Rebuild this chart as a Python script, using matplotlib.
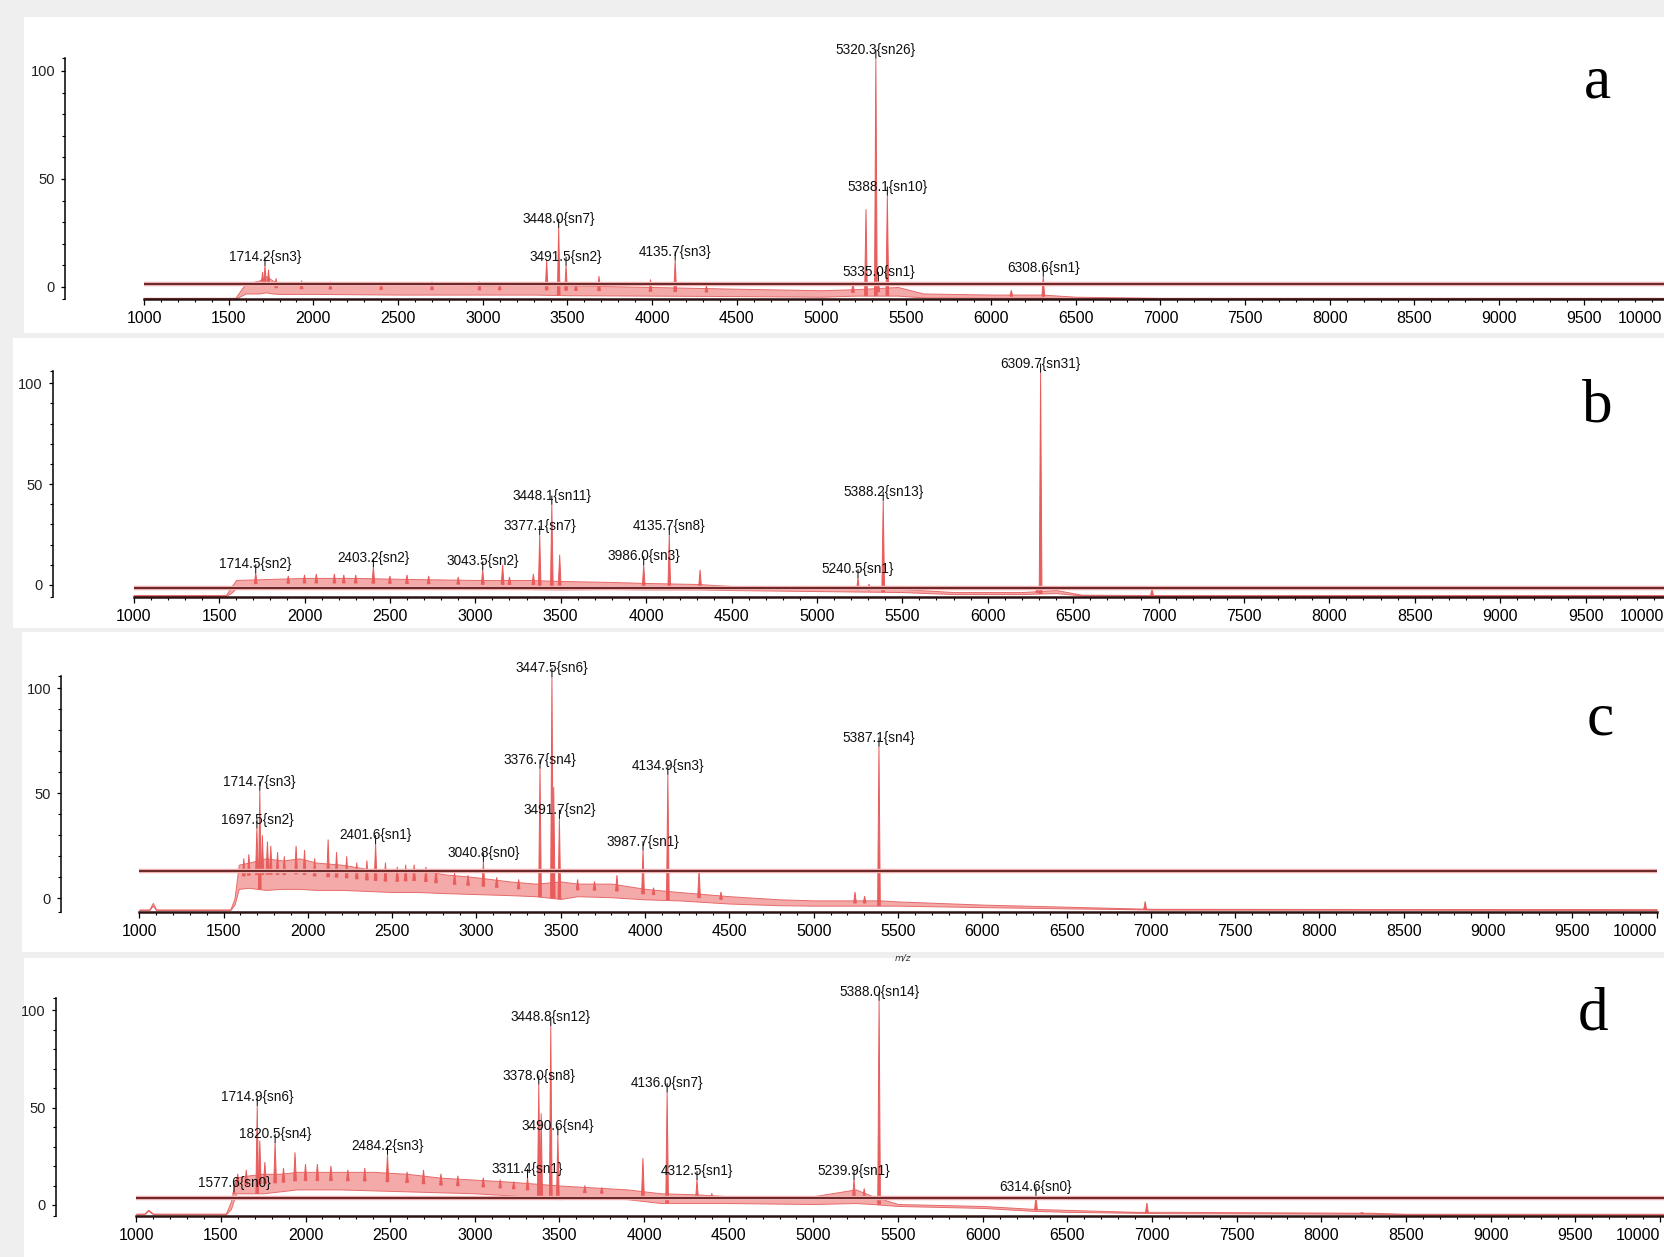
import numpy as np
import matplotlib
matplotlib.use("Agg")
import matplotlib.pyplot as plt
from matplotlib.patches import Rectangle
from matplotlib.ticker import FixedLocator

W, H = 1664, 1257
SANS = "Liberation Sans"

# ---- data (m/z, relative intensity) ----
x_ticks = [1000, 1500, 2000, 2500, 3000, 3500, 4000, 4500, 5000, 5500,
           6000, 6500, 7000, 7500, 8000, 8500, 9000, 9500, 10000]
y_ticks = [0, 50, 100]
y_minor = [10, 20, 30, 40, 60, 70, 80, 90]
panel_names = ["a", "b", "c", "d"]
thresholds = [1.4, -1.6, 13, 3.4]

# panel a
a_env_mz = [1000, 1540, 1575, 1600, 1680, 1720, 1760, 1800, 2000, 2500, 3000, 3300, 3500,
            4000, 4500, 5000, 5200, 5450, 5600, 6000, 6300, 6500, 7000, 10200]
a_env_lo = [-5.4, -5.4, -4, -3, -3, -2.5, -3, -3.2, -3.2, -3.5, -3.5, -3.5, -3.8,
            -4, -4.2, -4.5, -4, -4, -4.8, -5, -5, -5.3, -5.4, -5.4]
a_env_hi = [-5.0, -5.0, -1, 1.5, 3, 5, 3, 1.8, 1.5, 1.2, 0.8, 1, 0.8,
            0, -0.8, -1.5, -1, 0, -3, -3.5, -3.5, -4.5, -5, -5]
a_mz = [1700, 1714.2, 1735, 1780, 1930, 2100, 2400, 2700, 2980, 3100, 3377, 3448.0, 3491.5,
        3550, 3686, 3990, 4135.7, 4320, 5185, 5262, 5320.3, 5335.0, 5388.1, 6120, 6308.6]
a_int = [7, 10, 8, 4, 3, 2.5, 2, 2.5, 2.5, 1.5, 12.5, 27.5, 10,
         2, 5, 3.5, 12.5, 0.5, 2.5, 36, 106, 3, 42.5, -1.5, 5]
a_tag = [None, "1714.2{sn3}", None, None, None, None, None, None, None, None, None,
         "3448.0{sn7}", "3491.5{sn2}", None, None, None, "4135.7{sn3}", None, None, None,
         "5320.3{sn26}", "5335.0{sn1}", "5388.1{sn10}", None, "6308.6{sn1}"]

# panel b
b_env_mz = [1000, 1540, 1570, 1600, 1800, 2000, 2300, 2600, 3000, 3300, 3500, 3800, 4000,
            4300, 4500, 5000, 5500, 5800, 6200, 6400, 6550, 7000, 10200]
b_env_lo = [-5.4, -5.4, -4, -1.5, -1.5, -1.5, -1.5, -1.5, -1.8, -2, -2.2, -2, -2.2,
            -2.2, -2.5, -3, -3.5, -4.5, -4.5, -4, -5.2, -5.4, -5.4]
b_env_hi = [-5.0, -5.0, -1, 2.5, 3, 3.5, 3.5, 3, 2.5, 2.5, 2, 1.5, 1,
            0.5, -0.5, -1, -2, -3.5, -3.5, -2.5, -4.8, -5, -5]
b_mz = [1714.5, 1905, 2000, 2069, 2175, 2230, 2300, 2403.2, 2500, 2600, 2727, 2900,
        3043.5, 3160, 3200, 3340, 3377.1, 3448.1, 3494, 3986.0, 4135.7, 4316, 5240.5,
        5305, 5388.2, 6290, 6309.7, 6962]
b_int = [6, 4.5, 5, 5.5, 5.5, 5, 5, 9, 4.5, 5, 4.5, 4,
         7.5, 10, 4, 5.5, 25, 40, 15, 10, 25, 7.5, 3.5,
         0.5, 42, -1.5, 105.5, -1.5]
b_tag = ["1714.5{sn2}", None, None, None, None, None, None, "2403.2{sn2}", None, None,
         None, None, "3043.5{sn2}", None, None, None, "3377.1{sn7}", "3448.1{sn11}", None,
         "3986.0{sn3}", "4135.7{sn8}", None, "5240.5{sn1}", None, "5388.2{sn13}", None,
         "6309.7{sn31}", None]

# panel c
c_env_mz = [1000, 1060, 1080, 1100, 1540, 1565, 1590, 1650, 1750, 1850, 1950, 2050, 2200,
            2350, 2500, 2650, 2800, 3000, 3200, 3350, 3500, 3600, 3800, 4000, 4200, 4500,
            4800, 5000, 5400, 5500, 6000, 6500, 6900, 7000, 10000]
c_env_lo = [-5.6, -5.6, -3.5, -5.6, -5.6, -3, 4.5, 5, 4, 4.5, 4.5, 4, 4,
            3.5, 3, 3, 2.5, 2, 1.5, 1, -0.3, 1, 0.5, -0.5, -1, -2.5,
            -3.3, -3.5, -3.5, -3.5, -4.2, -4.8, -5.2, -5.4, -5.5]
c_env_hi = [-5.3, -5.3, -2.2, -5.3, -5.3, 0, 16, 17, 19, 18, 19, 17, 16,
            14, 13, 14, 11.5, 10, 8, 7, 8, 7, 7, 4.5, 3, 1,
            -0.5, -1, -1, -1.5, -3, -4, -4.8, -5, -5.2]
c_mz = [1620, 1650, 1697.5, 1714.7, 1730, 1760, 1780, 1820, 1860, 1930, 1980, 2040, 2120,
        2170, 2230, 2290, 2350, 2401.6, 2460, 2530, 2580, 2630, 2700, 2760, 2870, 2950,
        3040.8, 3120, 3250, 3376.7, 3447.5, 3458, 3491.7, 3600, 3700, 3833, 3987.7,
        4050, 4134.9, 4320, 4450, 5245, 5302, 5387.1, 6966]
c_int = [19, 21, 33.5, 51.5, 30, 27, 25, 22, 20, 25, 23, 19, 28,
         22, 20, 17, 18, 26, 17, 15, 16, 16, 15, 14, 12, 11,
         17.5, 10, 9, 62, 105.5, 53, 38, 9, 8, 11, 23,
         5, 59, 13.5, 3, 3, 1, 72.5, -1.5]
c_tag = [None, None, "1697.5{sn2}", "1714.7{sn3}", None, None, None, None, None, None,
         None, None, None, None, None, None, None, "2401.6{sn1}", None, None, None, None,
         None, None, None, None, "3040.8{sn0}", None, None, "3376.7{sn4}", "3447.5{sn6}",
         None, "3491.7{sn2}", None, None, None, "3987.7{sn1}", None, "4134.9{sn3}", None,
         None, None, None, "5387.1{sn4}", None]

# panel d
d_env_mz = [1000, 1050, 1070, 1100, 1530, 1560, 1590, 1650, 1750, 1850, 1950, 2050, 2200,
            2400, 2600, 2800, 3000, 3200, 3350, 3500, 3700, 3900, 4100, 4300, 4500, 5000,
            5250, 5350, 5500, 6000, 6300, 6500, 6900, 7100, 8300, 8500, 10200]
d_env_lo = [-4.8, -4.8, -2.8, -4.8, -4.8, -2, 6, 6, 6, 7, 8, 8, 8,
            7.5, 7, 6.5, 6, 5, 4, 3, 3.5, 3, 1, 1, 1, 0.5,
            1, 0.5, -0.5, -1.5, -3, -3.5, -4, -4.2, -4.5, -5, -5]
d_env_hi = [-4.4, -4.4, -2.4, -4.4, -4.4, 2, 14, 15, 16, 16, 17, 17, 17,
            17, 16, 14, 13, 12, 11, 10, 9, 8, 6, 5.5, 4.5, 4.5,
            8, 4.5, 0.5, -0.5, -2, -2.5, -3.5, -3.5, -4, -4.5, -4.5]
d_mz = [1577.6, 1600, 1650, 1714.9, 1730, 1760, 1820.5, 1870, 1938, 2000, 2070, 2150,
        2250, 2350, 2484.2, 2600, 2697, 2800, 2900, 3050, 3150, 3230, 3311.4, 3378.0,
        3392, 3448.8, 3490.6, 3650, 3750, 3993, 4136.0, 4312.5, 4400, 5239.9, 5300,
        5388.0, 6314.6, 6970, 8240]
d_int = [7, 16, 18, 51, 33, 22, 32, 19, 27, 21, 21, 20,
         18, 19, 26, 17, 18, 16, 15, 14, 13, 12, 14, 62,
         47, 92, 36, 10, 9, 24, 58, 13, 6, 13, 8.5,
         105, 5, 1, -4]
d_tag = ["1577.6{sn0}", None, None, "1714.9{sn6}", None, None, "1820.5{sn4}", None, None,
         None, None, None, None, None, "2484.2{sn3}", None, None, None, None, None, None,
         None, "3311.4{sn1}", "3378.0{sn8}", None, "3448.8{sn12}", "3490.6{sn4}", None,
         None, None, "4136.0{sn7}", "4312.5{sn1}", None, "5239.9{sn1}", None,
         "5388.0{sn14}", "6314.6{sn0}", None, None]

spectra = [
    (a_env_mz, a_env_lo, a_env_hi, a_mz, a_int, a_tag),
    (b_env_mz, b_env_lo, b_env_hi, b_mz, b_int, b_tag),
    (c_env_mz, c_env_lo, c_env_hi, c_mz, c_int, c_tag),
    (d_env_mz, d_env_lo, d_env_hi, d_mz, d_int, d_tag),
]

# ---- layout (pixels measured on the reference) ----
# y-axis x, x of m/z 1000, px per 500, y px of 0, y px of 100, axis bottom value
layout = [
    (65.0, 144.0, 84.7, 287.0, 71.0, -5.6),
    (52.5, 133.7, 85.4, 585.0, 383.3, -5.8),
    (61.0, 139.3, 84.3, 898.3, 688.3, -6.4),
    (56.0, 136.2, 84.65, 1205.0, 1010.0, -5.5),
]
white_boxes = [(24, 17, 333), (13, 338, 628), (22, 632, 952), (24, 958, 1257)]
letter_pos = [(1597, 83), (1597, 407), (1600, 720), (1593, 1015)]

NOISE_FACE = "#f5aaaa"
NOISE_EDGE = "#e66a6a"
PEAK = "#e85c5c"
THRESH = "#5e1c1c"

fig = plt.figure(figsize=(W / 100, H / 100), dpi=100, facecolor="#efefef")

for x0, y0, y1 in white_boxes:
    fig.add_artist(Rectangle((x0 / W, 1 - y1 / H), (W - x0) / W, (y1 - y0) / H,
                             transform=fig.transFigure, facecolor="white",
                             edgecolor="none", zorder=-5))

for i, (env_mz, env_lo, env_hi, mz, inten, tags) in enumerate(spectra):
    yax, x1000, per500, ypx0, ypx100, ybot = layout[i]
    sx = per500 / 500.0
    sy = (ypx0 - ypx100) / 100.0
    xlo = 1000 - (x1000 - yax) / sx
    xhi = 10150
    ytop = 110
    bot_px = ypx0 - ybot * sy
    top_px = ypx0 - ytop * sy
    ax = fig.add_axes([yax / W, 1 - bot_px / H, (xhi - xlo) * sx / W, (bot_px - top_px) / H])
    ax.set_facecolor("none")
    ax.set_xlim(xlo, xhi)
    ax.set_ylim(ybot, ytop)
    x_end = 10000 if panel_names[i] == "c" else xhi

    # spectrum: noise band and peaks
    ax.fill_between(env_mz, env_lo, env_hi, facecolor=NOISE_FACE, edgecolor=NOISE_EDGE,
                    lw=0.7, zorder=2)
    for m, h in zip(mz, inten):
        lo = np.interp(m, env_mz, env_lo)
        hi = np.interp(m, env_mz, env_hi)
        base = lo if h > hi + 20 else (lo + hi) / 2
        ax.fill([m - 8, m, m + 8], [base, h, base], facecolor=PEAK, edgecolor=PEAK,
                lw=0.7, zorder=2.5)

    # threshold line
    ax.plot([1000, x_end], [thresholds[i]] * 2, color="#f0b0b0", lw=3.2, zorder=2.8,
            solid_capstyle="butt")
    ax.plot([1000, x_end], [thresholds[i]] * 2, color=THRESH, lw=1.3, zorder=3,
            solid_capstyle="butt")

    # peak labels
    for m, h, t in zip(mz, inten, tags):
        if t is None:
            continue
        ax.annotate("", xy=(m, h), xytext=(0, 6), textcoords="offset points",
                    arrowprops=dict(arrowstyle="-", color="black", lw=0.7,
                                    shrinkA=0, shrinkB=0), zorder=4)
        ax.annotate(t, xy=(m, h), xytext=(0, 3.2), textcoords="offset points",
                    ha="center", va="baseline", fontsize=9.8, family=SANS,
                    color="#111111", zorder=4)

    # axes styling
    for s in ["top", "right"]:
        ax.spines[s].set_visible(False)
    ax.spines["left"].set_bounds(ybot, 106)
    ax.spines["left"].set_linewidth(1.1)
    ax.spines["bottom"].set_bounds(1000, x_end)
    ax.spines["bottom"].set_linewidth(1.8)
    ax.spines["bottom"].set_color("#2b1212")
    ax.spines["bottom"].set_zorder(3.5)

    labels = [str(v) for v in x_ticks]
    if panel_names[i] in ("a", "b"):
        labels[-1] = ""
    ax.xaxis.set_major_locator(FixedLocator(x_ticks))
    ax.xaxis.set_minor_locator(FixedLocator([v for v in range(1000, 10001, 100)]))
    ax.set_xticklabels(labels)
    ax.yaxis.set_major_locator(FixedLocator(y_ticks))
    ax.yaxis.set_minor_locator(FixedLocator([ybot] + y_minor + [106]))
    ax.set_yticklabels([str(v) for v in y_ticks])
    ax.tick_params(axis="x", which="major", direction="out", length=4.5, width=0.9,
                   pad=4, labelsize=11.5, labelfontfamily=SANS, color="black")
    ax.tick_params(axis="x", which="minor", direction="out", length=2.3, width=0.8)
    ax.tick_params(axis="y", which="major", direction="out", length=3.2, width=0.9,
                   pad=4, labelsize=10.5, labelfontfamily=SANS, color="black")
    ax.tick_params(axis="y", which="minor", direction="out", length=2.4, width=0.8)
    for lbl in ax.get_yticklabels():
        lbl.set_color("#222222")
    if panel_names[i] in ("c", "d"):
        # last label sits against the right edge, pulled in as in the original
        ax.get_xticklabels()[-1].set_horizontalalignment("right")
    else:
        # 10000 tick lies past the figure edge; keep its label inside
        ax.annotate(str(x_ticks[-1]), xy=(x_ticks[-1], ybot), xycoords="data",
                    xytext=(-5, -8.5), textcoords="offset points", ha="right",
                    va="top", fontsize=11.5, family=SANS, annotation_clip=False)

    lx, ly = letter_pos[i]
    fig.text(lx / W, 1 - ly / H, panel_names[i], ha="center", va="center",
             fontsize=44, family="Liberation Serif", color="black")

fig.text(903 / W, 1 - 958 / H, "m/z", ha="center", va="center", fontsize=6.5,
         style="italic", color="#333333")

fig.savefig("out.png", dpi=100, facecolor=fig.get_facecolor())
